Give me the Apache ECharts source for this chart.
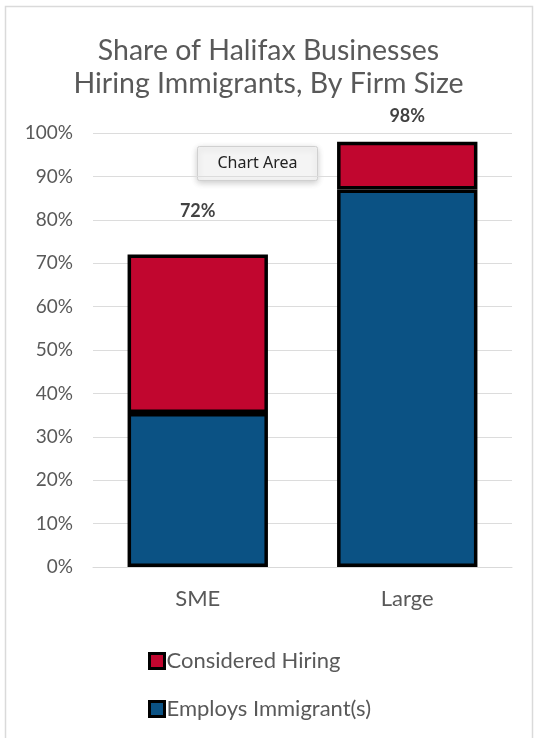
<!DOCTYPE html>
<html>
<head>
<meta charset="utf-8">
<script src="https://cdn.jsdelivr.net/npm/echarts@6/dist/echarts.min.js"></script>
<style>
  html, body { margin: 0; padding: 0; background: #fff; }
  #main { width: 537px; height: 738px; }
</style>
</head>
<body>
<div id="main"></div>
<script>
var firmSizes = ['SME', 'Large'];
var employsImmigrants = [35.5, 87];
var consideredHiring = [36.5, 11];
var yTicks = [0, 100, 10];

var totals = firmSizes.map(function (f, i) {
    return employsImmigrants[i] + consideredHiring[i];
});

var chart = echarts.init(document.getElementById('main'), null, { renderer: 'canvas' });
var grayText = '#595959';
var font = 'Lato';

// label gap above each bar differs in the picture
var labelGap = [34, 16];

var option = {
    backgroundColor: '#fff',
    animation: false,
    title: {
        text: 'Share of Halifax Businesses\nHiring Immigrants, By Firm Size',
        left: 'center',
        top: 29,
        textStyle: { fontFamily: font, fontSize: 28.5, fontWeight: 'normal', color: grayText, lineHeight: 33 }
    },
    grid: { left: 93, right: 25, top: 133, bottom: 171 },
    legend: {
        orient: 'vertical',
        left: 143,
        top: 645,
        itemGap: 26,
        itemWidth: 15,
        itemHeight: 15,
        icon: 'rect',
        data: ['Considered Hiring', 'Employs Immigrant(s)'],
        itemStyle: { borderWidth: 3, borderColor: '#000' },
        textStyle: { fontFamily: font, fontSize: 22, color: grayText, padding: [0, 0, 0, -3] }
    },
    xAxis: {
        type: 'category',
        data: firmSizes,
        axisLine: { lineStyle: { color: '#d9d9d9' } },
        axisTick: { show: false },
        axisLabel: { fontFamily: font, fontSize: 22, color: grayText, margin: 21 }
    },
    yAxis: {
        type: 'value',
        min: yTicks[0],
        max: yTicks[1],
        interval: yTicks[2],
        axisLine: { show: false },
        axisTick: { show: false },
        splitLine: { lineStyle: { color: '#dcdcdc' } },
        axisLabel: { fontFamily: font, fontSize: 19, color: grayText, margin: 20, formatter: '{value}%' }
    },
    series: [
        {
            name: 'Employs Immigrant(s)',
            type: 'bar',
            stack: 'hire',
            barWidth: '67%',
            data: employsImmigrants,
            itemStyle: { color: '#0b5284', borderColor: '#000', borderWidth: 3.5 }
        },
        {
            name: 'Considered Hiring',
            type: 'bar',
            stack: 'hire',
            data: consideredHiring,
            itemStyle: { color: '#c1062f', borderColor: '#000', borderWidth: 3.5 }
        },
        {
            name: 'Total',
            type: 'scatter',
            symbolSize: 0,
            data: totals.map(function (t, i) {
                return { value: t, label: { distance: labelGap[i] } };
            }),
            label: {
                show: true,
                position: 'top',
                formatter: function (p) { return Math.round(p.value) + '%'; },
                fontFamily: font,
                fontSize: 18,
                fontWeight: 'bold',
                color: '#111'
            },
            silent: true
        }
    ],
    graphic: [
        {
            type: 'rect',
            shape: { x: 5.5, y: 6.5, width: 527, height: 740 },
            style: { fill: null, stroke: '#dadada', lineWidth: 1.5 },
            silent: true
        },
        {
            type: 'group',
            left: 197,
            top: 146,
            children: [
                {
                    type: 'rect',
                    shape: { x: 0, y: 0, width: 120, height: 34, r: 2 },
                    style: { fill: '#f4f4f4', stroke: '#d0d0d0', lineWidth: 1, shadowBlur: 6, shadowColor: 'rgba(0,0,0,0.2)', shadowOffsetY: 2 }
                },
                {
                    type: 'text',
                    x: 60,
                    y: 17,
                    style: { text: 'Chart Area', fontFamily: 'Noto Sans', fontSize: 16, fill: '#222', align: 'center', verticalAlign: 'middle' }
                }
            ]
        }
    ]
};

chart.setOption(option);
window.addEventListener('resize', chart.resize);
</script>
</body>
</html>
